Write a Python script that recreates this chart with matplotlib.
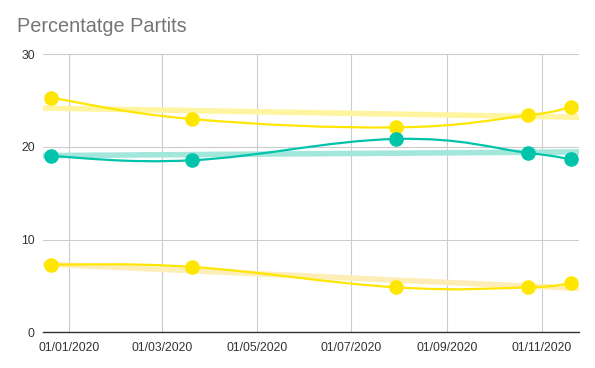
import numpy as np
import matplotlib

matplotlib.use("Agg")
import matplotlib.pyplot as plt
import matplotlib.dates as mdates
from matplotlib.path import Path
from matplotlib.patches import PathPatch

# values
dates = ["2019-12-20", "2020-03-20", "2020-07-30", "2020-10-23", "2020-11-20"]
upper_yellow = [25.3, 23.0, 22.1, 23.4, 24.3]
teal = [19.0, 18.55, 20.85, 19.35, 18.65]
lower_yellow = [7.3, 7.05, 4.85, 4.85, 5.3]
y_ticks = [0, 10, 20, 30]

YELLOW = "#ffe600"
TEAL = "#00c4aa"
YELLOW_TREND = "#fff5a0"
LOWER_TREND = "#fdeeb8"
TEAL_TREND = "#a2e6dc"

plt.rcParams["font.family"] = ["Liberation Sans", "DejaVu Sans"]


def smooth_path(x, y, k=0.2):
    # cubic bezier through the points, tangents from neighbours
    x = np.asarray(x, float)
    y = np.asarray(y, float)
    n = len(x)
    tx = np.zeros(n)
    ty = np.zeros(n)
    for i in range(n):
        a = max(i - 1, 0)
        b = min(i + 1, n - 1)
        tx[i] = (x[b] - x[a]) * k
        ty[i] = (y[b] - y[a]) * k
    verts = [(x[0], y[0])]
    codes = [Path.MOVETO]
    for i in range(n - 1):
        verts += [(x[i] + tx[i], y[i] + ty[i]),
                  (x[i + 1] - tx[i + 1], y[i + 1] - ty[i + 1]),
                  (x[i + 1], y[i + 1])]
        codes += [Path.CURVE4] * 3
    return Path(verts, codes)


fig = plt.figure(figsize=(5.95, 3.68), dpi=100)
ax = fig.add_axes([0.0723, 0.097, 0.9007, 0.756])

xs = mdates.date2num(np.array(dates, dtype="datetime64[D]"))
x0 = mdates.date2num(np.datetime64("2019-12-15"))
x1 = mdates.date2num(np.datetime64("2020-11-25"))

for vals, color, tcolor in [(upper_yellow, YELLOW, YELLOW_TREND),
                            (teal, TEAL, TEAL_TREND),
                            (lower_yellow, YELLOW, LOWER_TREND)]:
    slope, inter = np.polyfit(xs, vals, 1)
    ax.plot([x0, x1], [slope * x0 + inter, slope * x1 + inter],
            color=tcolor, lw=4, solid_capstyle="butt", zorder=2)
    ax.add_patch(PathPatch(smooth_path(xs, vals), facecolor="none",
                           edgecolor=color, lw=1.6, zorder=3))
    ax.plot(xs, vals, "o", color=color, ms=9.5, zorder=4)

ax.set_xlim(x0, x1)
ax.set_ylim(0, 30)
ax.set_yticks(y_ticks)
ax.xaxis.set_major_locator(mdates.MonthLocator(bymonth=[1, 3, 5, 7, 9, 11]))
ax.xaxis.set_major_formatter(mdates.DateFormatter("%d/%m/%Y"))

ax.grid(True, color="#cccccc", lw=0.8)
ax.set_axisbelow(True)
for side in ["top", "right", "left"]:
    ax.spines[side].set_visible(False)
ax.spines["bottom"].set_color("#333333")
ax.spines["bottom"].set_linewidth(1.0)
ax.spines["bottom"].set_zorder(5)
ax.tick_params(length=0, labelsize=8.7, labelcolor="#333333")
ax.tick_params(axis="x", pad=7)
ax.tick_params(axis="y", pad=6)

fig.text(0.029, 0.927, "Percentatge Partits", fontsize=14.3, color="#757575",
         va="center", ha="left")

fig.savefig("out.png", dpi=100)
